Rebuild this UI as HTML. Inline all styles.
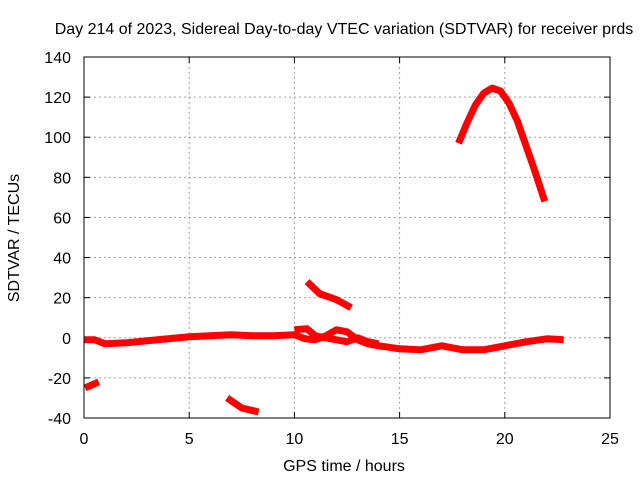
<!DOCTYPE html>
<html><head><meta charset="utf-8"><style>
body{margin:0;background:#fff}
svg{display:block;font-family:"Liberation Sans",sans-serif;font-size:16px}
</style></head><body>
<svg id="chart" width="640" height="480">
<text x="344" y="34" text-anchor="middle">Day 214 of 2023, Sidereal Day-to-day VTEC variation (SDTVAR) for receiver prds</text>
<text x="344" y="471" text-anchor="middle">GPS time / hours</text>
<text x="19" y="238" text-anchor="middle" transform="rotate(-90 19 238)">SDTVAR / TECUs</text>
<g id="grid"></g><g id="ticks"></g><g id="series"></g>
<rect x="84" y="57" width="526" height="361" fill="none" stroke="#000"/>
</svg>
<script>
const xTicks=[0,5,10,15,20,25];
const yTicks=[-40,-20,0,20,40,60,80,100,120,140];
const seriesMain=[[0,-1],[0.5,-1],[1,-3],[2,-2.5],[3,-1.5],[4,-0.5],[5,0.5],[6,1],[7,1.5],[8,1],[9,1],[10,1.5],[10.5,-0.5],[11,-1],[11.5,1],[12,4],[12.5,3],[13,-1],[13.5,-3],[14,-4],[15,-5.5],[16,-6],[17,-4],[18,-6],[19,-6],[20,-4],[21,-2],[22,-0.5],[22.8,-1]];
const seriesLoop=[[10,4],[10.6,4.5],[11,1],[11.5,0],[12,-1],[12.5,-2],[13,0],[13.5,-2],[14,-3]];
const seriesC=[[0.05,-25],[0.7,-22]];
const seriesD=[[6.8,-30],[7.5,-35],[8.3,-37]];
const seriesE=[[10.6,28],[11.2,22],[12,19],[12.7,15]];
const seriesF=[[17.8,97],[18.2,107],[18.6,116],[19,122],[19.4,124.5],[19.8,123],[20.2,117],[20.6,108],[21,96],[21.4,84],[21.9,68]];
const NS="http://www.w3.org/2000/svg";
const X=v=>84+v*526/25, Y=v=>418-(v+40)*361/180;
function mk(t,a,p){const e=document.createElementNS(NS,t);for(const k in a)e.setAttribute(k,a[k]);p.appendChild(e);return e;}
const grid=document.getElementById('grid'),ticks=document.getElementById('ticks'),ser=document.getElementById('series');
xTicks.forEach(t=>{const x=X(t);
 if(t>0&&t<25){const l=mk('line',{x1:x,x2:x,y1:57,y2:418,stroke:'#a0a0a0','stroke-dasharray':'2,3'},grid);
 
 }
 mk('line',{x1:x,x2:x,y1:418,y2:412,stroke:'#000'},ticks);mk('line',{x1:x,x2:x,y1:57,y2:63,stroke:'#000'},ticks);
 const tx=mk('text',{x:x,y:444,'text-anchor':'middle'},ticks);tx.textContent=t;
 
 });
yTicks.forEach(t=>{const y=Y(t);
 if(t>-40&&t<140){const l=mk('line',{x1:84,x2:610,y1:y,y2:y,stroke:'#a0a0a0','stroke-dasharray':'2,3'},grid);
 
 }
 mk('line',{x1:84,x2:90,y1:y,y2:y,stroke:'#000'},ticks);mk('line',{x1:610,x2:604,y1:y,y2:y,stroke:'#000'},ticks);
 const tx=mk('text',{x:71,y:y+6,'text-anchor':'end'},ticks);tx.textContent=t;
 
 });
[seriesMain,seriesLoop,seriesC,seriesD,seriesE,seriesF].forEach(s=>{
 const p=mk('polyline',{points:s.map(d=>X(d[0])+','+Y(d[1])).join(' '),fill:'none',stroke:'#f00','stroke-width':7,'stroke-linejoin':'round'},ser);
 
 });
</script>
</body></html>
